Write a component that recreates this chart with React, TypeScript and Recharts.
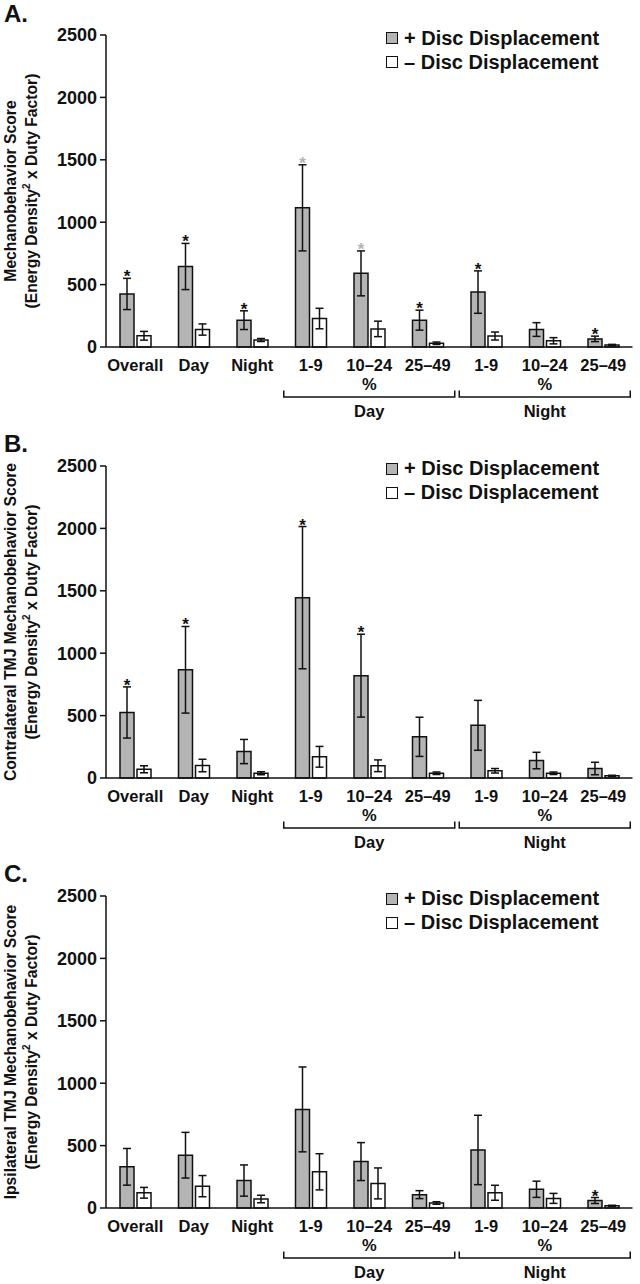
import React from "react";
import { BarChart, Bar, XAxis, YAxis, ErrorBar, LabelList } from "recharts";

const categories = ["Overall", "Day", "Night", "1-9", "10–24", "25–49", "1-9", "10–24", "25–49"];
// group label drawn under the middle category of each bracket
const groupLabels: Record<number, string> = { 4: "Day", 7: "Night" };
const yTicks = [0, 500, 1000, 1500, 2000, 2500];

// panel A
const aPlus = [425, 645, 215, 1115, 590, 215, 440, 140, 65];
const aPlusErr = [125, 185, 75, 345, 180, 80, 170, 55, 22];
const aMinus = [90, 140, 56, 228, 145, 30, 88, 50, 16];
const aMinusErr = [35, 45, 12, 82, 62, 10, 32, 25, 5];
const aSig = [1, 1, 1, 2, 2, 1, 1, 0, 1]; // 1 = black star, 2 = grey star

// panel B
const bPlus = [525, 867, 212, 1445, 820, 330, 422, 140, 76];
const bPlusErr = [205, 347, 97, 570, 332, 157, 200, 66, 50];
const bMinus = [70, 100, 38, 170, 98, 38, 58, 38, 18];
const bMinusErr = [28, 50, 12, 83, 47, 10, 18, 10, 4];
const bSig = [1, 1, 0, 1, 1, 0, 0, 0, 0];

// panel C
const cPlus = [330, 423, 220, 790, 372, 107, 465, 150, 60];
const cPlusErr = [147, 183, 125, 340, 152, 32, 278, 65, 24];
const cMinus = [122, 175, 72, 290, 197, 40, 122, 77, 18];
const cMinusErr = [43, 85, 30, 145, 124, 10, 60, 40, 4];
const cSig = [0, 0, 0, 0, 0, 0, 0, 0, 1];

const FONT = "'Liberation Sans', Arial, sans-serif";
const INK = "#111";
const GREY = "#b4b4b4";

function CategoryTick(props: any) {
  const { x, y, payload } = props;
  const i = Number(payload.value);
  const group = groupLabels[i];
  return (
    <g fontFamily={FONT} fontWeight={700} fill={INK}>
      <text x={x} y={y + 24} textAnchor="middle" fontSize={16.5}>
        {categories[i]}
      </text>
      {group && (
        <>
          <text x={x} y={y + 43} textAnchor="middle" fontSize={16.5}>
            %
          </text>
          <path
            d={`M${x - 85.5},${y + 43.5} V${y + 50} H${x + 85.5} V${y + 43.5}`}
            fill="none"
            stroke={INK}
            strokeWidth={1.5}
          />
          <text x={x} y={y + 70} textAnchor="middle" fontSize={16.5}>
            {group}
          </text>
        </>
      )}
    </g>
  );
}

function YLabel({ viewBox, title }: any) {
  const cy = viewBox && viewBox.height ? viewBox.y + viewBox.height / 2 : 191;
  return (
    <g fontFamily={FONT} fontWeight={700} fill={INK} fontSize={15.7}>
      <text x={16} y={cy} textAnchor="middle" transform={`rotate(-90, 16, ${cy})`}>
        {title}
      </text>
      <text x={37} y={cy} textAnchor="middle" transform={`rotate(-90, 37, ${cy})`}>
        (Energy Density<tspan fontSize={10} dy={-7}>2</tspan>
        <tspan dy={7}> x Duty Factor)</tspan>
      </text>
    </g>
  );
}

function Panel(props: {
  letter: string;
  title: string;
  plus: number[];
  plusErr: number[];
  minus: number[];
  minusErr: number[];
  sig: number[];
  top: number;
}) {
  const { letter, title, plus, plusErr, minus, minusErr, sig, top } = props;
  const data = categories.map((_, i) => ({
    id: i,
    plus: plus[i],
    plusErr: plusErr[i],
    minus: minus[i],
    minusErr: minusErr[i],
    sig: sig[i],
  }));

  const star = (p: any) => {
    const vb = p.viewBox && p.viewBox.width != null ? p.viewBox : p;
    const i = p.index;
    const s = sig[i];
    if (!s) return null;
    const pxPerUnit = vb.height / plus[i];
    const errTop = vb.y - plusErr[i] * pxPerUnit;
    return (
      <text
        x={vb.x + vb.width / 2}
        y={errTop + 4}
        textAnchor="middle"
        fontFamily={FONT}
        fontWeight={700}
        fontSize={17}
        fill={s === 2 ? GREY : INK}
      >
        *
      </text>
    );
  };

  return (
    <div style={{ position: "absolute", left: 0, top, width: 640, height: 430 }}>
      <div
        style={{
          position: "absolute",
          left: 4,
          top: 1.5,
          fontSize: 24,
          lineHeight: "24px",
          fontWeight: 700,
          color: INK,
        }}
      >
        {letter}
      </div>

      {/* Legend */}
      <div style={{ position: "absolute", left: 386, top: 26, fontSize: 20, fontWeight: 700, color: INK }}>
        {[
          { sign: "+", fill: GREY },
          { sign: "–", fill: "#fff" },
        ].map((row) => (
          <div key={row.sign} style={{ display: "flex", alignItems: "center", height: 24 }}>
            <div
              style={{
                width: 10,
                height: 10,
                background: row.fill,
                border: `1.5px solid ${INK}`,
                marginRight: 6,
              }}
            />
            <span>{row.sign} Disc Displacement</span>
          </div>
        ))}
      </div>

      <BarChart
        width={640}
        height={430}
        data={data}
        margin={{ top: 35, right: 7.5, left: 0, bottom: 0 }}
        barSize={14}
        barGap={3}
      >
        <XAxis
          dataKey="id"
          height={83}
          interval={0}
          tickLine={false}
          tickSize={0}
          tickMargin={0}
          axisLine={{ stroke: INK, strokeWidth: 1.5 }}
          tick={<CategoryTick />}
        />
        <YAxis
          width={106}
          domain={[0, 2500]}
          ticks={yTicks}
          tickSize={6}
          tickMargin={3}
          axisLine={{ stroke: INK, strokeWidth: 1.5 }}
          tickLine={{ stroke: INK, strokeWidth: 1.5 }}
          tick={{ fill: INK, fontSize: 18, fontWeight: 700, fontFamily: FONT }}
          label={{ content: (p: any) => <YLabel viewBox={p.viewBox} title={title} /> }}
        />
        <Bar dataKey="plus" fill={GREY} stroke={INK} strokeWidth={1.5} isAnimationActive={false}>
          <ErrorBar dataKey="plusErr" width={4} stroke={INK} strokeWidth={1.5} isAnimationActive={false} />
          <LabelList dataKey="sig" content={star} />
        </Bar>
        <Bar dataKey="minus" fill="#fff" stroke={INK} strokeWidth={1.5} isAnimationActive={false}>
          <ErrorBar dataKey="minusErr" width={4} stroke={INK} strokeWidth={1.5} isAnimationActive={false} />
        </Bar>
      </BarChart>
    </div>
  );
}

export default function App() {
  return (
    <div
      style={{
        position: "absolute",
        left: 0,
        top: 0,
        width: 640,
        height: 1284,
        background: "#fff",
        fontFamily: FONT,
      }}
    >
      <Panel
        letter="A."
        title="Mechanobehavior Score"
        plus={aPlus}
        plusErr={aPlusErr}
        minus={aMinus}
        minusErr={aMinusErr}
        sig={aSig}
        top={0}
      />
      <Panel
        letter="B."
        title="Contralateral TMJ Mechanobehavior Score"
        plus={bPlus}
        plusErr={bPlusErr}
        minus={bMinus}
        minusErr={bMinusErr}
        sig={bSig}
        top={430.5}
      />
      <Panel
        letter="C."
        title="Ipsilateral TMJ Mechanobehavior Score"
        plus={cPlus}
        plusErr={cPlusErr}
        minus={cMinus}
        minusErr={cMinusErr}
        sig={cSig}
        top={860.5}
      />
    </div>
  );
}
